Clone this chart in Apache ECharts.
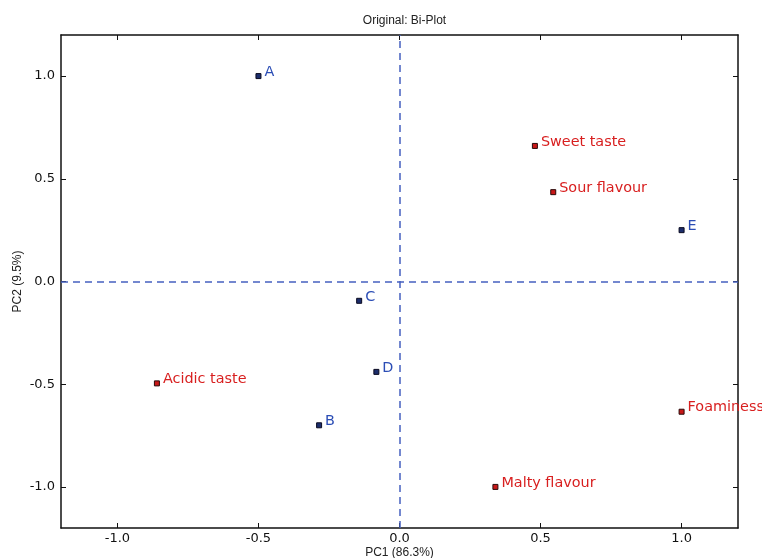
<!DOCTYPE html>
<html>
<head>
<meta charset="utf-8">
<script src="https://cdn.jsdelivr.net/npm/echarts@6/dist/echarts.min.js"></script>
<style>
  html, body { margin: 0; padding: 0; background: #fff; }
  #chart { width: 762px; height: 558px; }
</style>
</head>
<body>
<div id="chart"></div>
<script>
// Sample scores (blue) and attribute loadings (red) on PC1 / PC2
const sampleNames = ['A', 'B', 'C', 'D', 'E'];
const sampleX = [-0.50, -0.285, -0.143, -0.082, 1.0];
const sampleY = [1.0, -0.70, -0.094, -0.44, 0.25];

const attrNames = ['Sweet taste', 'Sour flavour', 'Acidic taste', 'Foaminess', 'Malty flavour'];
const attrX = [0.48, 0.545, -0.86, 1.0, 0.34];
const attrY = [0.66, 0.435, -0.496, -0.634, -1.0];

const tickValues = [-1.0, -0.5, 0.0, 0.5, 1.0];

const chart = echarts.init(document.getElementById('chart'), null, { renderer: 'canvas' });

const tickFont = { fontFamily: 'DejaVu Sans', fontSize: 13, color: '#111' };

function axisBase(extra, labelMargin) {
  return Object.assign({
    type: 'value',
    min: -1.2,
    max: 1.2,
    splitLine: { show: false },
    axisLine: { show: true, onZero: false, lineStyle: { color: '#111', width: 1.5 } },
    axisTick: { show: true, inside: true, length: 5, customValues: tickValues, lineStyle: { color: '#111', width: 1 } },
    axisLabel: Object.assign({ customValues: tickValues, margin: labelMargin || 6, formatter: v => v.toFixed(1) }, tickFont)
  }, extra);
}

function pairs(xs, ys, names) {
  return xs.map((x, i) => ({ value: [x, ys[i]], name: names[i] }));
}

function labelStyle(color) {
  return {
    show: true,
    position: 'right',
    distance: 3,
    offset: [0, -4],
    formatter: p => p.name,
    fontFamily: 'DejaVu Sans',
    fontSize: 14.4,
    color: color
  };
}

chart.setOption({
  animation: false,
  title: {
    text: 'Original: Bi-Plot',
    left: 399.5,
    textAlign: 'center',
    top: 10,
    textStyle: { fontFamily: 'Liberation Sans', fontSize: 12, fontWeight: 'normal', color: '#222' }
  },
  grid: { left: 61, right: 24, top: 35, bottom: 30, containLabel: false, outerBoundsMode: 'none' },
  xAxis: [
    axisBase({
      position: 'bottom',
      name: 'PC1 (86.3%)',
      nameLocation: 'middle',
      nameGap: 19,
      nameMoveOverlap: false,
      nameTextStyle: { fontFamily: 'Liberation Sans', fontSize: 12, color: '#222' }
    }, 4),
    axisBase({ position: 'top', axisLabel: { show: false } })
  ],
  yAxis: [
    axisBase({
      position: 'left',
      name: 'PC2 (9.5%)',
      nameLocation: 'middle',
      nameGap: 37,
      nameMoveOverlap: false,
      nameRotate: 90,
      nameTextStyle: { fontFamily: 'Liberation Sans', fontSize: 12, color: '#222' }
    }, 6),
    axisBase({ position: 'right', axisLabel: { show: false } })
  ],
  series: [
    {
      name: 'samples',
      type: 'scatter',
      xAxisIndex: 0,
      yAxisIndex: 0,
      symbol: 'rect',
      symbolSize: 5,
      itemStyle: { color: '#1c2d6b', borderColor: '#0a0a20', borderWidth: 1, opacity: 1 },
      label: labelStyle('#2b4db5'),
      data: pairs(sampleX, sampleY, sampleNames),
      markLine: {
        silent: true,
        symbol: 'none',
        label: { show: false },
        lineStyle: { color: '#4560c0', type: [7, 5], width: 1.5, opacity: 1 },
        data: [{ xAxis: 0 }, { yAxis: 0 }]
      }
    },
    {
      name: 'attributes',
      type: 'scatter',
      xAxisIndex: 0,
      yAxisIndex: 0,
      symbol: 'rect',
      symbolSize: 5,
      itemStyle: { color: '#c81818', borderColor: '#2a0a0a', borderWidth: 1, opacity: 1 },
      label: labelStyle('#d81f1f'),
      data: pairs(attrX, attrY, attrNames)
    }
  ]
});
</script>
</body>
</html>
